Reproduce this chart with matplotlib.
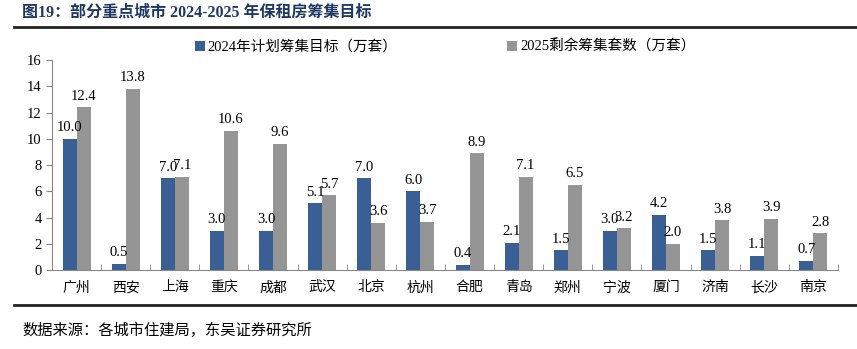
import matplotlib.pyplot as plt
import numpy as np

cities = ["广州", "西安", "上海", "重庆", "成都", "武汉", "北京", "杭州",
          "合肥", "青岛", "郑州", "宁波", "厦门", "济南", "长沙", "南京"]
plan_2024 = [10.0, 0.5, 7.0, 3.0, 3.0, 5.1, 7.0, 6.0, 0.4, 2.1, 1.5, 3.0, 4.2, 1.5, 1.1, 0.7]
left_2025 = [12.4, 13.8, 7.1, 10.6, 9.6, 5.7, 3.6, 3.7, 8.9, 7.1, 6.5, 3.2, 2.0, 3.8, 3.9, 2.8]
yticks = [0, 2, 4, 6, 8, 10, 12, 14, 16]

fam = ["Liberation Serif", "Noto Sans CJK SC"]
plt.rcParams['font.family'] = fam

fig = plt.figure(figsize=(8.57, 3.49), dpi=100)
ax = fig.add_axes([0.0607, 0.226, 0.917, 0.602])

x = np.arange(len(cities))
w = 0.285
ax.bar(x - w / 2, plan_2024, w, color="#3A5F94", label="2024年计划筹集目标（万套）")
ax.bar(x + w / 2, left_2025, w, color="#959595", label="2025剩余筹集套数（万套）")

# value labels above bars (they overlap in a couple of places, as in the source)
for xi, v in zip(x, plan_2024):
    ax.text(xi - w / 2, v + 0.35, f"{v:.1f}", ha="center", va="bottom", fontsize=10.5)
for xi, v in zip(x, left_2025):
    ax.text(xi + w / 2, v + 0.35, f"{v:.1f}", ha="center", va="bottom", fontsize=10.5)

ax.set_xlim(-0.5, len(cities) - 0.5)
ax.set_ylim(0, 16)
ax.set_yticks(yticks)
ax.set_xticks(x)
ax.set_xticklabels(cities, fontsize=10)
ax.tick_params(axis="x", length=0, pad=8)
ax.set_xticks(np.arange(len(cities) + 1) - 0.5, minor=True)
ax.tick_params(axis="x", which="minor", direction="in", length=4, color="#888888")
ax.tick_params(axis="y", labelsize=10.5, length=4, color="#888888")
for s in ["top", "right"]:
    ax.spines[s].set_visible(False)
for s in ["left", "bottom"]:
    ax.spines[s].set_color("#888888")

ax.legend(loc="upper center", bbox_to_anchor=(0.5, 1.16), ncol=2, frameon=False,
          fontsize=10.5, handlelength=0.7, handleheight=0.7, handletextpad=0.2,
          columnspacing=7.5)

fig.text(0.026, 0.965, "图19：部分重点城市 2024-2025 年保租房筹集目标", fontsize=11.5,
         fontweight="bold", color="#1F3864", va="center")
fig.add_artist(plt.Line2D([0.016, 1.0], [0.922, 0.922], color="#222222", lw=2))
fig.add_artist(plt.Line2D([0.016, 1.0], [0.126, 0.126], color="#222222", lw=2))
fig.text(0.026, 0.055, "数据来源：各城市住建局，东吴证券研究所", fontsize=11, va="center")

fig.savefig("out.png", dpi=100)
